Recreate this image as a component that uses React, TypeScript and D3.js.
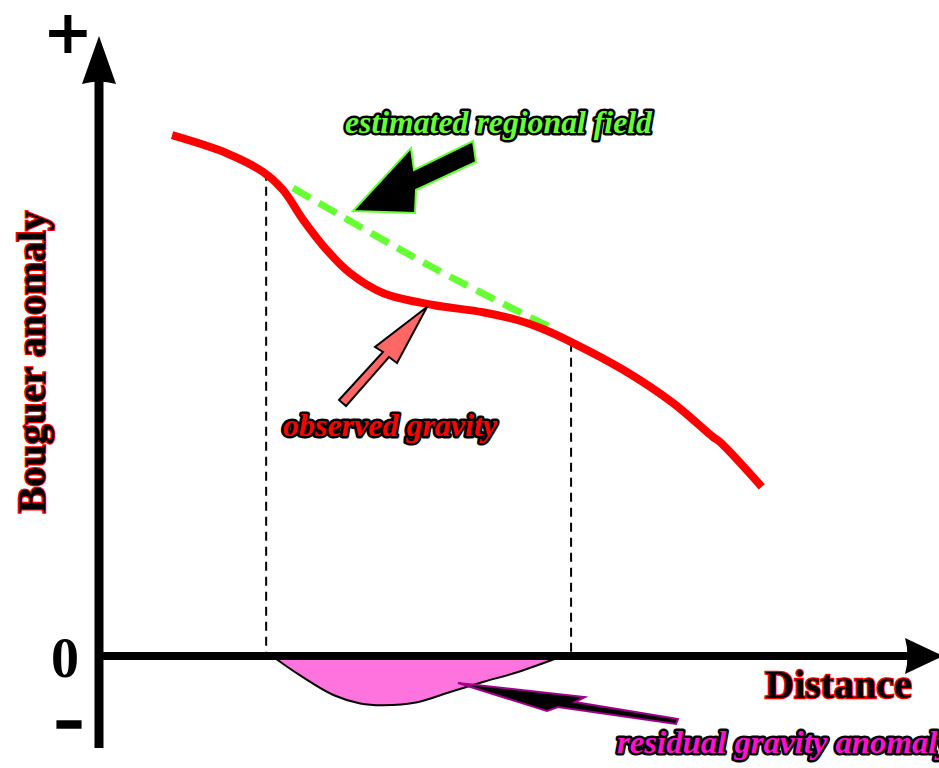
import React from "react";
import * as d3 from "d3";

// Observed gravity profile (distance units, anomaly units)
const observedX = [8.7, 15.2, 19.5, 21.9, 24.3, 27.1, 29.9, 33.8, 39.8, 45.7, 49.8, 52.5, 56.4, 62.4, 68.3, 73.1, 73.9, 78.9];
const observedY = [86.8, 83.8, 80.7, 77.7, 72.7, 67.7, 63.8, 60.5, 58.5, 57.3, 56.0, 54.7, 52.2, 47.7, 42.2, 36.5, 35.7, 28.2];

// Estimated regional field
const regionalX = [23.1, 39.8, 53.7];
const regionalY = [78.0, 64.7, 54.8];

// Residual gravity anomaly
const residualX = [20.6, 23.9, 27.9, 31.1, 33.8, 37.9, 41.8, 45.8, 49.8, 55.2];
const residualY = [0, -3.2, -6.5, -7.9, -8.2, -7.7, -6.0, -4.3, -2.7, 0];

// Anomaly boundaries (dashed verticals)
const boundaryX = [19.9, 56.2];
const boundaryTop = [80.7, 52.2];

const labels = {
  yAxis: "Bouguer anomaly",
  xAxis: "Distance",
  zero: "0",
  plus: "+",
  minus: "–",
  regional: "estimated regional field",
  observed: "observed gravity",
  residual: "residual gravity anomaly",
};

const W = 939;
const H = 768;

export default function App() {
  const x = d3.scaleLinear().domain([0, 100]).range([99, 939]);
  const y = d3.scaleLinear().domain([0, 100]).range([656, 56]);

  const line = d3
    .line<[number, number]>()
    .x((d) => x(d[0]))
    .y((d) => y(d[1]))
    .curve(d3.curveCatmullRom.alpha(0.5));

  const obs = observedX.map((v, i) => [v, observedY[i]] as [number, number]);
  const reg = regionalX.map((v, i) => [v, regionalY[i]] as [number, number]);
  const res = residualX.map((v, i) => [v, residualY[i]] as [number, number]);

  const x0 = x(0);
  const y0 = y(0);

  const serif = "'Liberation Serif', 'Times New Roman', serif";

  const poly = (pts: number[][]) => pts.map((p) => p.join(",")).join(" ");

  // annotation arrows (pixel polygons)
  const regArrow = [[353, 211], [411, 148], [414, 170], [473, 141], [476, 162], [416, 190], [415, 213]];
  const obsArrow = [[427, 307], [397, 363], [389, 357], [346, 406], [339, 400], [383, 352], [375, 347]];
  const resArrow = [[458, 683], [585, 697], [575, 702], [678, 719], [676, 724], [558, 707], [547, 711]];

  const annot = {
    fontFamily: serif,
    fontWeight: "bold" as const,
    fontStyle: "italic" as const,
    fontSize: 31,
    stroke: "#000",
    strokeWidth: 5,
    strokeLinejoin: "round" as const,
    paintOrder: "stroke",
  };

  return (
    <svg width={W} height={H} style={{ display: "block", position: "absolute", left: 0, top: 0 }}>
      <rect width={W} height={H} fill="#fff" />

      {/* residual fill */}
      <path d={line(res) || ""} fill="#ff73df" stroke="#000" strokeWidth={2} />

      {/* dashed verticals */}
      {boundaryX.map((bx, i) => (
        <line
          key={i}
          x1={x(bx)}
          x2={x(bx)}
          y1={y(boundaryTop[i])}
          y2={y0}
          stroke="#000"
          strokeWidth={2}
          strokeDasharray="9,6"
        />
      ))}

      {/* axes */}
      <line x1={x0} x2={x0} y1={80} y2={748} stroke="#000" strokeWidth={9} />
      <path d={`M${x0},36 L${x0 + 17},84 Q${x0},79 ${x0 - 17},84 Z`} fill="#000" />
      <line x1={95} x2={908} y1={y0} y2={y0} stroke="#000" strokeWidth={8} />
      <path d={`M943,${y0} L905,${y0 - 18} Q910,${y0} 905,${y0 + 18} Z`} fill="#000" />

      {/* regional field */}
      <path d={line(reg) || ""} fill="none" stroke="#66ff33" strokeWidth={7} strokeDasharray="20,10" />

      {/* observed gravity */}
      <path d={line(obs) || ""} fill="none" stroke="#ff0000" strokeWidth={8} strokeLinecap="butt" />

      {/* arrows */}
      <polygon points={poly(regArrow)} fill="#000" stroke="#66ff33" strokeWidth={2} strokeLinejoin="miter" />
      <polygon points={poly(obsArrow)} fill="#ff6666" stroke="#000" strokeWidth={2} />
      <polygon points={poly(resArrow)} fill="#000" stroke="#a0008a" strokeWidth={2} />

      {/* labels */}
      <text x={68} y={53} textAnchor="middle" fontFamily="'DejaVu Sans', sans-serif" fontWeight="bold" fontSize={60}>
        {labels.plus}
      </text>
      <text x={65} y={677} textAnchor="middle" fontFamily={serif} fontWeight="bold" fontSize={56}>
        {labels.zero}
      </text>
      <text
        x={69}
        y={740}
        textAnchor="middle"
        fontFamily="'DejaVu Sans', sans-serif"
        fontWeight="bold"
        fontSize={56}
        textLength={30}
        lengthAdjust="spacingAndGlyphs"
        stroke="#000"
        strokeWidth={1.5}
      >
        {labels.minus}
      </text>

      <text
        transform="translate(45,362) rotate(-90)"
        textAnchor="middle"
        fontFamily={serif}
        fontWeight="bold"
        fontSize={40}
        fill="#000"
        stroke="#ff0000"
        strokeWidth={2.5}
        paintOrder="stroke"
      >
        {labels.yAxis}
      </text>
      <text
        x={765}
        y={698}
        fontFamily={serif}
        fontWeight="bold"
        fontSize={40}
        fill="#000"
        stroke="#ff0000"
        strokeWidth={2.5}
        paintOrder="stroke"
      >
        {labels.xAxis}
      </text>

      <text x={345} y={133} textLength={307} lengthAdjust="spacingAndGlyphs" fill="#66ff33" {...annot}>
        {labels.regional}
      </text>
      <text x={283} y={436} textLength={214} lengthAdjust="spacingAndGlyphs" fill="#ff0000" {...annot}>
        {labels.observed}
      </text>
      <text x={617} y={753} textLength={335} lengthAdjust="spacingAndGlyphs" fill="#ff11cc" {...annot}>
        {labels.residual}
      </text>
    </svg>
  );
}
